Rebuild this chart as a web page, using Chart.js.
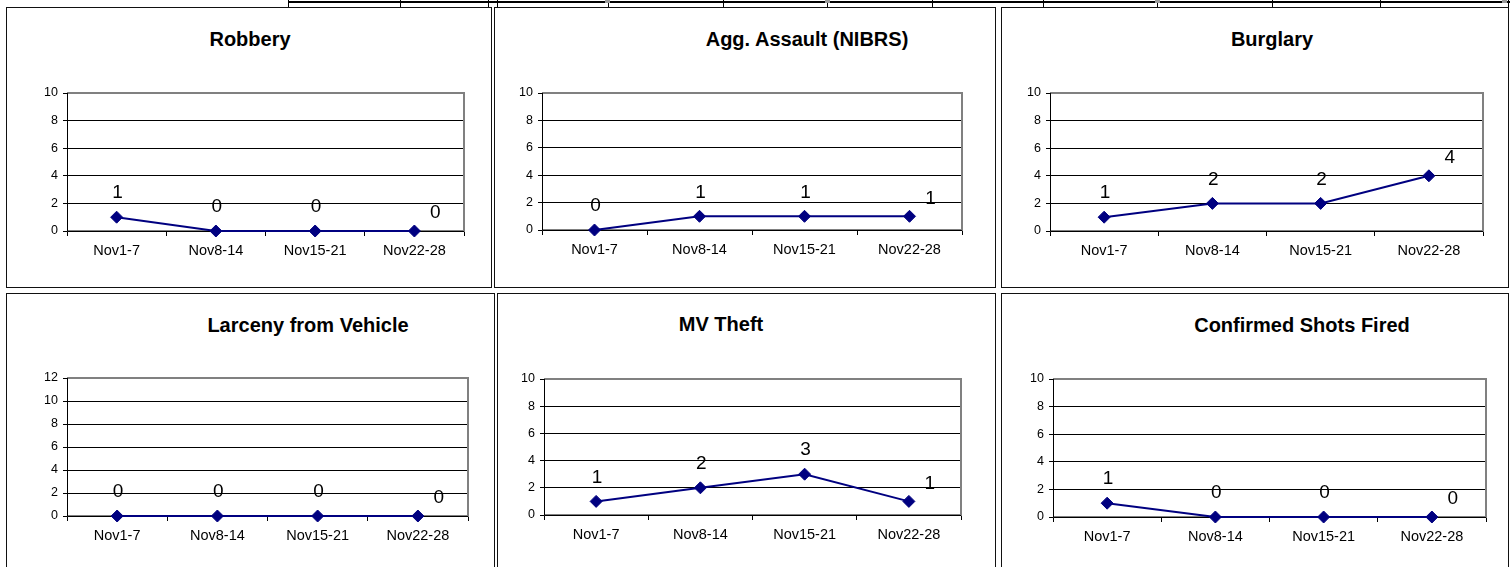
<!DOCTYPE html>
<html>
<head>
<meta charset="utf-8">
<script src="https://cdn.jsdelivr.net/npm/chart.js@4.4.0/dist/chart.umd.min.js"></script>
<style>
body { margin:0; background:#fff; width:1510px; height:567px; overflow:hidden; position:relative; font-family:Arial, "Liberation Sans", sans-serif; }
.panel { position:absolute; border:1px solid #111; box-sizing:border-box; }
canvas { position:absolute; }
.title { position:absolute; font-weight:bold; font-size:20px; line-height:1; white-space:nowrap; transform:translate(-50%,-50%); color:#000; }
.strip { position:absolute; top:1px; left:288px; width:1222px; height:2px; background:#000; }
.sep { position:absolute; top:0; width:1px; height:7px; background:#000; }
.mark { position:absolute; top:0; width:5px; height:3px; background:#999; }
</style>
</head>
<body>
<div class="strip"></div>
<script>
const weeks = ["Nov1-7", "Nov8-14", "Nov15-21", "Nov22-28"];

const robbery = [1, 0, 0, 0];
const aggAssault = [0, 1, 1, 1];
const burglary = [1, 2, 2, 4];
const larcenyVehicle = [0, 0, 0, 0];
const mvTheft = [1, 2, 3, 1];
const shotsFired = [1, 0, 0, 0];

// page layout: panel box [x, y, w, h], plot area [left, top, right, bottom], title centre
const panels = [
    { title: "Robbery", values: robbery, yMax: 10, box: [6, 7, 486, 281], area: [67, 93, 464, 231], titleAt: [250, 39] },
    { title: "Agg. Assault (NIBRS)", values: aggAssault, yMax: 10, box: [494, 7, 502, 281], area: [542, 93, 962, 230], titleAt: [807, 39] },
    { title: "Burglary", values: burglary, yMax: 10, box: [1001, 7, 508, 281], area: [1050, 93, 1483, 231], titleAt: [1272, 39] },
    { title: "Larceny from Vehicle", values: larcenyVehicle, yMax: 12, box: [6, 293, 489, 280], area: [67, 378, 468, 516], titleAt: [308, 325] },
    { title: "MV Theft", values: mvTheft, yMax: 10, box: [497, 293, 499, 280], area: [544, 379, 961, 515], titleAt: [721, 324] },
    { title: "Confirmed Shots Fired", values: shotsFired, yMax: 10, box: [1001, 293, 508, 280], area: [1053, 379, 1486, 517], titleAt: [1302, 325] }
];

const topSeps = [288, 400, 488, 497, 608, 723, 827, 932, 1043, 1157, 1272, 1380, 1508];
const topMarks = [605, 825, 1155, 1502];

const Y_W = 40;
const X_H = 32;

topSeps.forEach(x => {
    const d = document.createElement("div");
    d.className = "sep";
    d.style.left = x + "px";
    document.body.appendChild(d);
});
topMarks.forEach(x => {
    const d = document.createElement("div");
    d.className = "mark";
    d.style.left = x + "px";
    document.body.appendChild(d);
});

// gray plot frame like Excel
const plotFrame = {
    id: "plotFrame",
    beforeDatasetsDraw(chart) {
        const { ctx, chartArea: a } = chart;
        ctx.save();
        ctx.strokeStyle = "#808080";
        ctx.lineWidth = 2;
        ctx.beginPath();
        ctx.moveTo(a.left, a.top);
        ctx.lineTo(a.right, a.top);
        ctx.lineTo(a.right, a.bottom);
        ctx.lineTo(a.left, a.bottom);
        ctx.stroke();
        ctx.strokeStyle = "#000";
        ctx.lineWidth = 1;
        ctx.beginPath();
        ctx.moveTo(a.left + 0.5, a.top);
        ctx.lineTo(a.left + 0.5, a.bottom + 0.5);
        ctx.lineTo(a.right, a.bottom + 0.5);
        ctx.stroke();
        ctx.restore();
    }
};

const pointLabels = {
    id: "pointLabels",
    afterDatasetsDraw(chart) {
        const { ctx } = chart;
        const meta = chart.getDatasetMeta(0);
        const vals = chart.data.datasets[0].data;
        ctx.save();
        ctx.font = "19px Arial, 'Liberation Sans', sans-serif";
        ctx.fillStyle = "#000";
        ctx.textAlign = "center";
        ctx.textBaseline = "middle";
        meta.data.forEach((pt, i) => {
            const last = i === vals.length - 1;
            const dx = last ? 21 : 1;
            const dy = last ? -18 : -24;
            ctx.fillText(String(vals[i]), pt.x + dx, pt.y + dy);
        });
        ctx.restore();
    }
};

panels.forEach(p => {
    const [x0, y0, w, h] = p.box;
    const [l, t, r, b] = p.area;

    const border = document.createElement("div");
    border.className = "panel";
    border.style.left = x0 + "px";
    border.style.top = y0 + "px";
    border.style.width = w + "px";
    border.style.height = h + "px";
    document.body.appendChild(border);

    const title = document.createElement("div");
    title.className = "title";
    title.textContent = p.title;
    title.style.left = p.titleAt[0] + "px";
    title.style.top = p.titleAt[1] + "px";
    document.body.appendChild(title);

    const cv = document.createElement("canvas");
    cv.width = w;
    cv.height = h;
    cv.style.left = x0 + "px";
    cv.style.top = y0 + "px";
    cv.style.width = w + "px";
    cv.style.height = h + "px";
    document.body.appendChild(cv);

    new Chart(cv, {
        type: "line",
        data: {
            labels: weeks,
            datasets: [{
                data: p.values,
                borderColor: "#000080",
                backgroundColor: "#000080",
                borderWidth: 2,
                pointStyle: "rectRot",
                pointRadius: 6,
                pointHoverRadius: 6,
                pointBorderWidth: 1,
                tension: 0,
                clip: false
            }]
        },
        options: {
            responsive: false,
            animation: false,
            devicePixelRatio: 1,
            layout: {
                padding: { left: l - x0 - Y_W, top: t - y0, right: x0 + w - r, bottom: y0 + h - b - X_H }
            },
            plugins: { legend: { display: false }, tooltip: { enabled: false }, title: { display: false } },
            scales: {
                x: {
                    type: "category",
                    offset: true,
                    afterFit(s) { s.height = X_H; },
                    grid: { offset: true, drawOnChartArea: false, drawTicks: true, tickLength: 5, color: "#000" },
                    border: { color: "#000", width: 1 },
                    ticks: { color: "#000", font: { family: "Arial, 'Liberation Sans', sans-serif", size: 14.5 }, padding: 6, maxRotation: 0 }
                },
                y: {
                    min: 0,
                    max: p.yMax,
                    afterFit(s) { s.width = Y_W; },
                    grid: { color: "#000", lineWidth: 1, tickLength: 4 },
                    border: { color: "#000", width: 1 },
                    ticks: { stepSize: 2, color: "#000", font: { family: "Arial, 'Liberation Sans', sans-serif", size: 12.5 }, padding: 5 }
                }
            }
        },
        plugins: [plotFrame, pointLabels]
    });
});
</script>
</body>
</html>
